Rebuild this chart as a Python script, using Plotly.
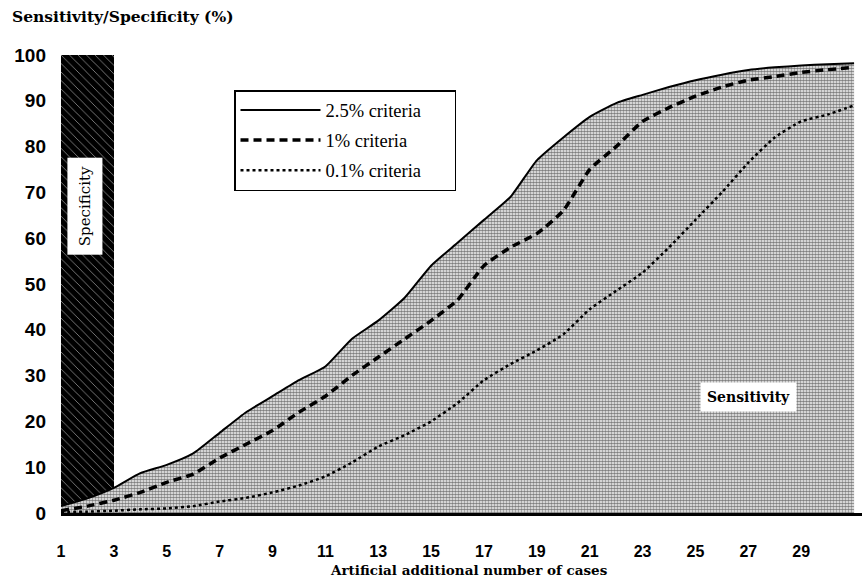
import plotly.graph_objects as go

# ---- data ----
cases = list(range(1, 32))
sens_25 = [1.5, 3.2, 5.5, 8.7, 10.5, 13, 17.5, 22, 25.5, 29, 32, 38, 42, 47, 54, 59,
           64, 69, 77, 82, 86.5, 89.5, 91.3, 93, 94.5, 95.7, 96.7, 97.3, 97.7, 98, 98.2]
sens_1 = [0.5, 1.5, 2.8, 4.5, 6.7, 8.5, 12, 15, 18, 22, 25.5, 30, 34, 38, 42, 46.5,
          54, 58, 61, 66, 75, 80, 85.5, 88.5, 91, 93, 94.5, 95.3, 96.2, 96.8, 97.3]
sens_01 = [0.2, 0.3, 0.5, 0.8, 1, 1.5, 2.5, 3.3, 4.5, 6, 8, 11, 14.5, 17, 20, 24,
           29, 32.5, 35.5, 39, 44.5, 48.5, 52.5, 58, 64, 70, 76.5, 82, 85.5, 87, 89]
spec_x = [2]
spec_y = [100]
x_ticks = list(range(1, 30, 2))
y_ticks = list(range(0, 101, 10))
legend_names = ["2.5% criteria", "1% criteria", "0.1% criteria"]

serif_wide = "DejaVu Serif, serif"
serif = "Liberation Serif, DejaVu Serif, serif"
sans = "Liberation Sans Narrow, Liberation Sans, Arial, sans-serif"
pad = "\u00a0" * 6

fig = go.Figure()

# Specificity bar
fig.add_trace(go.Bar(
    x=spec_x, y=spec_y, width=2, showlegend=False,
    marker=dict(color="#000000", line=dict(width=0),
                pattern=dict(shape="\\", fgcolor="#ffffff", bgcolor="#000000",
                             size=6, solidity=0.15)),
    hoverinfo="skip"))

# Sensitivity area (under 2.5% criteria curve)
fig.add_trace(go.Scatter(
    x=cases, y=sens_25, mode="lines", showlegend=False, hoverinfo="skip",
    line=dict(color="rgba(0,0,0,0)", width=0, shape="spline", smoothing=0.5),
    fill="tozeroy", fillcolor="#a0a0a0",
    fillpattern=dict(shape=".", fgcolor="#000000", bgcolor="#ffffff", size=3, solidity=0.65)))

fig.add_trace(go.Scatter(
    x=cases, y=sens_25, mode="lines", name=legend_names[0] + pad, legendgroup="a",
    line=dict(color="#000000", width=2, shape="spline", smoothing=0.5)))

fig.add_trace(go.Scatter(
    x=cases, y=sens_1, mode="lines", name=legend_names[1] + pad, legendgroup="b",
    line=dict(color="#000000", width=3.5, dash="8px,5px", shape="spline", smoothing=0.5)))

fig.add_trace(go.Scatter(
    x=cases, y=sens_01, mode="lines", name=legend_names[2] + pad, legendgroup="c",
    line=dict(color="#000000", width=2.5, dash="dot", shape="spline", smoothing=0.5)))

fig.update_layout(
    width=862, height=580,
    margin=dict(l=61, r=0, t=55, b=67),
    paper_bgcolor="#ffffff", plot_bgcolor="#ffffff",
    bargap=0,
    legend=dict(x=(234 - 61) / 801, y=(513 - 90) / 458, xanchor="left", yanchor="top",
                bgcolor="#ffffff", bordercolor="#000000", borderwidth=1.5,
                font=dict(family=serif, size=18.5, color="#000000"),
                itemwidth=80, tracegroupgap=3),
    annotations=[
        dict(text="Sensitivity/Specificity (%)", xref="paper", yref="paper",
             x=-51 / 801, y=1 + (55 - 17) / 458, xanchor="left", yanchor="middle",
             showarrow=False, font=dict(family=serif_wide, size=15.5, color="#000000", weight="bold")),
        dict(text="Artificial additional number of cases", xref="paper", yref="paper",
             x=(469 - 61) / 801, y=-(570 - 513) / 458, xanchor="center", yanchor="middle",
             showarrow=False, font=dict(family=serif_wide, size=13.5, color="#000000", weight="bold")),
        dict(text="Specificity", x=1.91, y=67, xref="x", yref="y", textangle=-90,
             showarrow=False, bgcolor="#ffffff", borderpad=8,
             font=dict(family=serif_wide, size=15, color="#000000")),
        dict(text="Sensitivity", x=27.0, y=25.4, xref="x", yref="y",
             showarrow=False, bgcolor="#ffffff", borderpad=6,
             font=dict(family=serif_wide, size=14, color="#000000", weight="bold")),
    ],
)

fig.update_xaxes(range=[1, 31.3], tickvals=x_ticks, ticktext=[str(v) for v in x_ticks],
                 showgrid=False, zeroline=False, showline=True, linecolor="#000000",
                 linewidth=2.5, ticks="", ticklabelstandoff=22,
                 tickfont=dict(family=sans, size=16, color="#000000", weight="bold"))
fig.update_yaxes(range=[0, 100], tickvals=y_ticks, showgrid=False, zeroline=False,
                 showline=False, ticks="", ticklabelstandoff=14,
                 tickfont=dict(family="Liberation Sans, Arial, sans-serif", size=19,
                               color="#000000", weight="bold"))

fig.write_html("out.html")
